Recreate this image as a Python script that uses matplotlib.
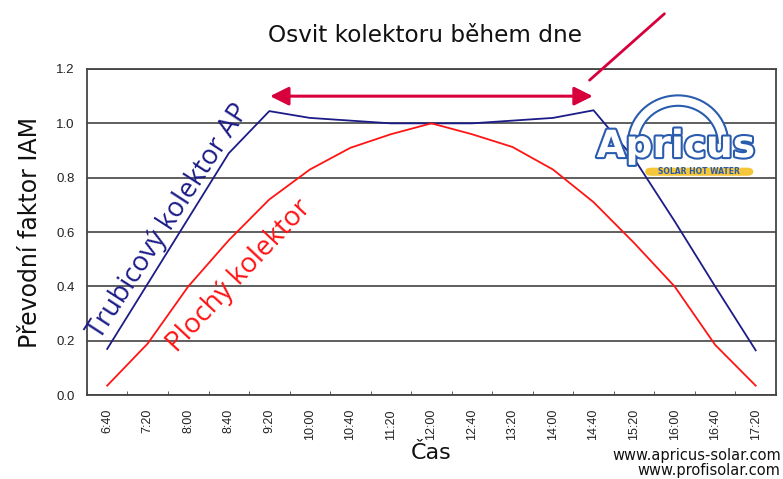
import numpy as np
import matplotlib.pyplot as plt
import matplotlib.patheffects as pe
from matplotlib.patches import Arc, FancyBboxPatch

# time of day (category axis)
times = ['6:40', '7:20', '8:00', '8:40', '9:20', '10:00', '10:40', '11:20', '12:00',
         '12:40', '13:20', '14:00', '14:40', '15:20', '16:00', '16:40', '17:20']
# incidence angle modifier, evacuated tube collector
tube_iam = [0.17, 0.41, 0.65, 0.89, 1.045, 1.02, 1.01, 1.0, 1.0,
            1.0, 1.01, 1.02, 1.048, 0.87, 0.64, 0.40, 0.165]
# incidence angle modifier, flat plate collector
flat_iam = [0.035, 0.19, 0.40, 0.57, 0.72, 0.83, 0.91, 0.96, 1.0,
            0.96, 0.913, 0.83, 0.71, 0.56, 0.40, 0.185, 0.035]
yticks = [0.0, 0.2, 0.4, 0.6, 0.8, 1.0, 1.2]

navy = '#1c1c88'
red = '#ff1414'
crimson = '#d8003c'

fig = plt.figure(figsize=(7.83, 4.79), dpi=100)
ax = fig.add_axes([0.111, 0.175, 0.880, 0.681])

x = np.arange(len(times))
ax.plot(x, tube_iam, color=navy, lw=1.3)
ax.plot(x, flat_iam, color=red, lw=1.3)

ax.set_xlim(-0.5, len(times) - 0.5)
ax.set_ylim(0, 1.2)
ax.set_yticks(yticks)
ax.set_yticklabels(['%.1f' % v for v in yticks], fontsize=9.5, family='Liberation Sans', color='#222222')
ax.set_xticks(x)
ax.set_xticklabels(times, rotation=90, fontsize=9, family='Liberation Sans', color='#222222')
ax.tick_params(axis='x', length=0, pad=10)
ax.tick_params(axis='y', length=0, pad=9)
ax.set_xticks(np.arange(len(times) + 1) - 0.5, minor=True)
ax.tick_params(axis='x', which='minor', direction='in', length=3, color='#444444')
ax.grid(axis='y', color='#333333', lw=1.1)
ax.set_axisbelow(True)
for s in ax.spines.values():
    s.set_color('#444444')
    s.set_linewidth(1.3)

ax.set_ylabel('Převodní faktor IAM', fontsize=17, color='#111111', labelpad=10)
ax.set_xlabel('Čas', fontsize=16, color='#111111', labelpad=2)
fig.text(0.543, 0.925, 'Osvit kolektoru během dne', ha='center', va='center', fontsize=16.7, color='#111111')

# rotated series labels
ax.text(1.66, 0.625, 'Trubicový kolektor AP', rotation=57, ha='center', va='baseline',
        fontsize=19.5, color=navy, rotation_mode='anchor', family=['Open Sans', 'DejaVu Sans'])
ax.text(3.39, 0.42, 'Plochý kolektor', rotation=47, ha='center', va='baseline',
        fontsize=20, color=red, rotation_mode='anchor', family=['Open Sans', 'DejaVu Sans'])

# double-headed arrow showing exposure range
ax.annotate('', xy=(3.95, 1.1), xytext=(12.05, 1.1),
            arrowprops=dict(arrowstyle='<|-|>', color=crimson, lw=2.2, mutation_scale=28),
            annotation_clip=False)
ax.annotate('', xy=(11.85, 1.152), xytext=(13.8, 1.41),
            arrowprops=dict(arrowstyle='-', color=crimson, lw=2),
            annotation_clip=False)

# Apricus logo (rough)
logo_c = '#2a5cae'
fig.patches.append(Arc((0.866, 0.70), 0.115, 0.18, theta1=0, theta2=180,
                       transform=fig.transFigure, color=logo_c, lw=9))
fig.patches.append(Arc((0.866, 0.70), 0.115, 0.18, theta1=0, theta2=180,
                       transform=fig.transFigure, color='white', lw=6))
t = fig.text(0.863, 0.693, 'Apricus', ha='center', va='center', fontsize=27,
             fontweight='bold', color='white', family='DejaVu Sans')
t.set_path_effects([pe.Stroke(linewidth=3, foreground=logo_c), pe.Normal()])
fig.patches.append(FancyBboxPatch((0.824, 0.633), 0.138, 0.017, boxstyle='round,pad=0,rounding_size=0.008',
                                  transform=fig.transFigure, facecolor='#f5c53a', edgecolor='none'))
fig.text(0.893, 0.641, 'SOLAR HOT WATER', ha='center', va='center', fontsize=5.5,
         fontweight='bold', color=logo_c)

fig.text(0.997, 0.050, 'www.apricus-solar.com', ha='right', va='center', fontsize=10.5, color='#111111')
fig.text(0.997, 0.017, 'www.profisolar.com', ha='right', va='center', fontsize=10.5, color='#111111')

fig.savefig('out.png', dpi=100, facecolor='white')
